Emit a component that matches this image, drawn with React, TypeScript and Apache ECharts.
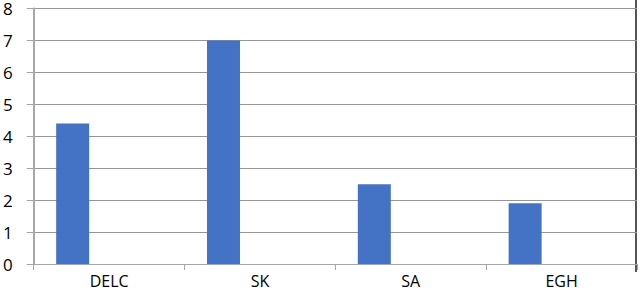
import React, { useEffect, useRef } from "react";
import * as echarts from "echarts";

const categories = ["DELC", "SK", "SA", "EGH"];
const seriesA = [4.4, 7.0, 2.5, 1.9];
const seriesB = [0, 0, 0, 0];
const yTicks = [0, 1, 2, 3, 4, 5, 6, 7, 8];

export default function App() {
  const ref = useRef<HTMLDivElement>(null);
  useEffect(() => {
    if (!ref.current) return;
    const chart = echarts.init(ref.current, null, { renderer: "svg" });
    chart.setOption({
      animation: false,
      backgroundColor: "#ffffff",
      grid: { left: 30, right: 2, top: 7, bottom: 34, containLabel: false },
      xAxis: {
        type: "category",
        data: categories,
        axisLine: { lineStyle: { color: "#a6a6a6", width: 1 } },
        axisTick: { show: true, length: 6, alignWithLabel: false, lineStyle: { color: "#a6a6a6" } },
        axisLabel: { color: "#000", fontSize: 16, fontFamily: "Open Sans", margin: 9 },
        splitLine: { show: false },
      },
      yAxis: {
        type: "value",
        min: yTicks[0],
        max: yTicks[yTicks.length - 1],
        interval: 1,
        axisLine: { show: true, lineStyle: { color: "#a6a6a6", width: 2 } },
        axisTick: { show: true, length: 7, lineStyle: { color: "#a6a6a6" } },
        axisLabel: { color: "#000", fontSize: 17, fontFamily: "Open Sans", margin: 21, align: "right" },
        splitLine: { show: true, lineStyle: { color: "#969696", width: 1 } },
      },
      series: [
        {
          type: "bar",
          data: seriesA,
          barWidth: 33,
          barGap: "121%",
          itemStyle: { color: "#4472C4" },
        },
        {
          type: "bar",
          data: seriesB,
          barWidth: 33,
          itemStyle: { color: "#ED7D31" },
        },
      ],
      graphic: [
        {
          type: "line",
          shape: { x1: 636, y1: 0, x2: 636, y2: 272 },
          style: { stroke: "#555555", lineWidth: 2 },
        },
      ],
    });
    return () => chart.dispose();
  }, []);
  return <div ref={ref} style={{ width: 639, height: 298, position: "fixed", left: 0, top: 0 }} />;
}
